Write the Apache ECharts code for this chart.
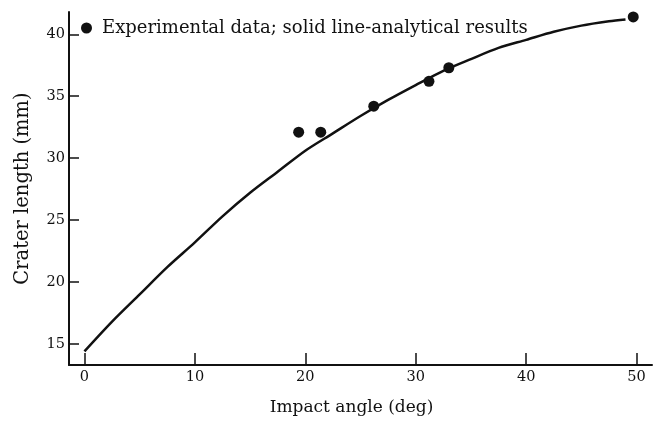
<!DOCTYPE html>
<html>
<head>
<meta charset="utf-8">
<script src="https://cdn.jsdelivr.net/npm/echarts@6/dist/echarts.min.js"></script>
<style>
  html, body { margin: 0; padding: 0; background: #fff; }
  #chart { width: 656px; height: 421px; }
</style>
</head>
<body>
<div id="chart"></div>
<script>
// experimental points (impact angle, crater length)
const expAngle = [19.4, 21.4, 26.2, 31.2, 33.0, 49.7]
const expLength = [32.1, 32.1, 34.2, 36.2, 37.3, 41.4]

// analytical curve
const curveAngle = [0, 2.5, 5, 7.5, 10, 12.5, 15, 17.5, 20, 22.5, 25, 27.5, 30, 32.5, 35, 37.5, 40, 42.5, 45, 47.5, 49]
const curveLength = [14.4, 16.8, 19.0, 21.2, 23.2, 25.3, 27.2, 28.9, 30.6, 32.0, 33.4, 34.7, 35.9, 37.05, 38.0, 38.9, 39.55, 40.2, 40.7, 41.05, 41.2]

const xTicks = [0, 10, 20, 30, 40, 50]
const yTicks = [15, 20, 25, 30, 35, 40]

const font = 'DejaVu Serif'
const ink = '#111'

const chart = echarts.init(document.getElementById('chart'))

chart.setOption({
  animation: false,
  backgroundColor: '#fff',
  grid: { left: 69, right: 4, top: 12, bottom: 52 },
  legend: {
    left: 76,
    top: 14,
    itemWidth: 11,
    itemHeight: 11,
    itemGap: 6,
    data: [{ name: 'Experimental data; solid line-analytical results', icon: 'circle' }],
    textStyle: { fontFamily: font, fontSize: 18, color: ink, padding: [0, 0, 0, 5] }
  },
  xAxis: {
    type: 'value',
    min: -1.4,
    max: 51.4,
    name: 'Impact angle (deg)',
    nameLocation: 'middle',
    nameGap: 34,
    nameTextStyle: { fontFamily: font, fontSize: 17, color: ink, padding: [0, 18, 0, 0] },
    axisLine: { onZero: false, lineStyle: { color: ink, width: 2 } },
    axisTick: { inside: true, length: 12, customValues: xTicks, lineStyle: { color: ink, width: 1.5 } },
    axisLabel: { customValues: xTicks, margin: 5, fontFamily: font, fontSize: 14.5, color: ink },
    splitLine: { show: false }
  },
  yAxis: {
    type: 'value',
    min: 13.3,
    max: 41.8,
    name: 'Crater length (mm)',
    nameLocation: 'middle',
    nameGap: 36,
    nameTextStyle: { fontFamily: font, fontSize: 19.5, color: ink },
    axisLine: { onZero: false, lineStyle: { color: ink, width: 2 } },
    axisTick: { inside: true, length: 10, customValues: yTicks, lineStyle: { color: ink, width: 1.5 } },
    axisLabel: { customValues: yTicks, margin: 4, fontFamily: font, fontSize: 14.5, color: ink },
    splitLine: { show: false }
  },
  series: [
    {
      type: 'line',
      name: 'analytical',
      data: curveAngle.map((a, i) => [a, curveLength[i]]),
      smooth: 0.3,
      showSymbol: false,
      lineStyle: { color: ink, width: 2.5 }
    },
    {
      type: 'scatter',
      name: 'Experimental data; solid line-analytical results',
      data: expAngle.map((a, i) => [a, expLength[i]]),
      symbolSize: 11,
      itemStyle: { color: ink, opacity: 1 }
    }
  ]
})
</script>
</body>
</html>
